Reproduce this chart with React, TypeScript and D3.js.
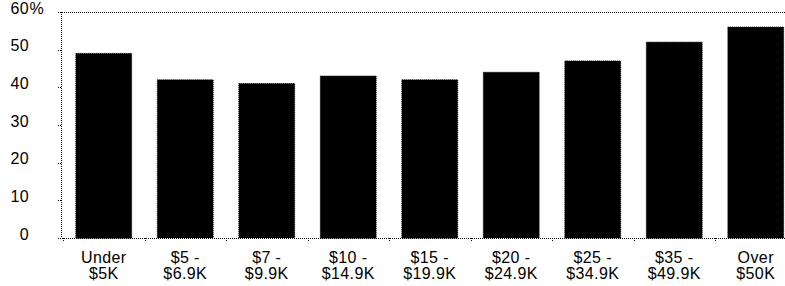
import { useEffect, useRef } from "react";
import * as d3 from "d3";

const W = 785, H = 286;
const M = { top: 12, left: 61.5, bottom: 238 };

const CATS_TOP = ["Under", "$5 -", "$7 -", "$10 -", "$15 -", "$20 -", "$25 -", "$35 -", "Over"];
const CATS_BOT = ["$5K", "$6.9K", "$9.9K", "$14.9K", "$19.9K", "$24.9K", "$34.9K", "$49.9K", "$50K"];
const VALUES = [49, 42, 41, 43, 42, 44, 47, 52, 56];
const Y_TICKS = [0, 10, 20, 30, 40, 50, 60];

const FONT = "'Liberation Sans', Arial, sans-serif";

export default function App() {
  const ref = useRef<SVGSVGElement>(null);

  useEffect(() => {
    const svg = d3.select(ref.current);
    svg.selectAll("*").remove();

    const x = d3.scaleBand<number>()
      .domain(d3.range(VALUES.length))
      .range([63, 796.5])
      .paddingInner(0.315)
      .paddingOuter(0.1575);
    const y = d3.scaleLinear().domain([0, 60]).range([M.bottom, M.top]);

    // bars
    svg.append("g").selectAll("rect").data(VALUES).join("rect")
      .attr("x", (_, i) => x(i)!)
      .attr("y", d => y(d))
      .attr("width", x.bandwidth())
      .attr("height", d => y(0) - y(d))
      .attr("fill", "#000")
      .attr("stroke", "#000")
      .attr("stroke-width", 1)
      .attr("stroke-dasharray", "1,1");

    const dotted = (sel: any) => sel.attr("stroke", "#000").attr("stroke-width", 1)
      .attr("stroke-dasharray", "1,1").attr("fill", "none").attr("shape-rendering", "crispEdges");

    // frame: top, left, bottom
    svg.append("line").attr("x1", M.left).attr("x2", W).attr("y1", M.top + 0.5).attr("y2", M.top + 0.5).call(dotted);
    svg.append("line").attr("x1", M.left).attr("x2", M.left).attr("y1", M.top).attr("y2", M.bottom).call(dotted);
    svg.append("line").attr("x1", M.left).attr("x2", W).attr("y1", M.bottom + 0.5).attr("y2", M.bottom + 0.5).call(dotted);

    // y ticks
    const yg = svg.append("g");
    yg.selectAll("line").data(Y_TICKS).join("line")
      .attr("x1", M.left - 4).attr("x2", M.left)
      .attr("y1", d => Math.round(y(d)) + 0.5).attr("y2", d => Math.round(y(d)) + 0.5)
      .call(dotted);
    yg.selectAll("text").data(Y_TICKS).join("text")
      .attr("x", 29).attr("y", d => y(d) + 1.8)
      .attr("text-anchor", "end")
      .attr("font-family", FONT).attr("font-size", 16).attr("letter-spacing", 0.4)
      .attr("fill", "#000")
      .text(d => String(d));
    yg.append("text")
      .attr("x", 29.4).attr("y", y(60) + 1.8)
      .attr("font-family", FONT).attr("font-size", 16)
      .attr("fill", "#000")
      .text("%");

    // x ticks at band boundaries
    const bounds = d3.range(VALUES.length + 1).map(i => x.range()[0] + i * x.step());
    svg.append("g").selectAll("line").data(bounds).join("line")
      .attr("x1", d => Math.round(d) + 0.5).attr("x2", d => Math.round(d) + 0.5)
      .attr("y1", M.bottom).attr("y2", M.bottom + 4)
      .call(dotted);

    // category labels
    const lg = svg.append("g")
      .attr("font-family", FONT).attr("font-size", 16).attr("letter-spacing", 0.4)
      .attr("fill", "#000").attr("text-anchor", "middle");
    lg.selectAll("text.t").data(CATS_TOP).join("text").attr("class", "t")
      .attr("x", (_, i) => x(i)! + x.bandwidth() / 2).attr("y", 262.5)
      .text(d => d);
    lg.selectAll("text.b").data(CATS_BOT).join("text").attr("class", "b")
      .attr("x", (_, i) => x(i)! + x.bandwidth() / 2).attr("y", 278.5)
      .text(d => d);
  }, []);

  return (
    <div style={{ position: "fixed", left: 0, top: 0, width: W, height: H, background: "#fff", overflow: "hidden" }}>
      <svg ref={ref} width={W} height={H} style={{ display: "block" }} />
    </div>
  );
}
